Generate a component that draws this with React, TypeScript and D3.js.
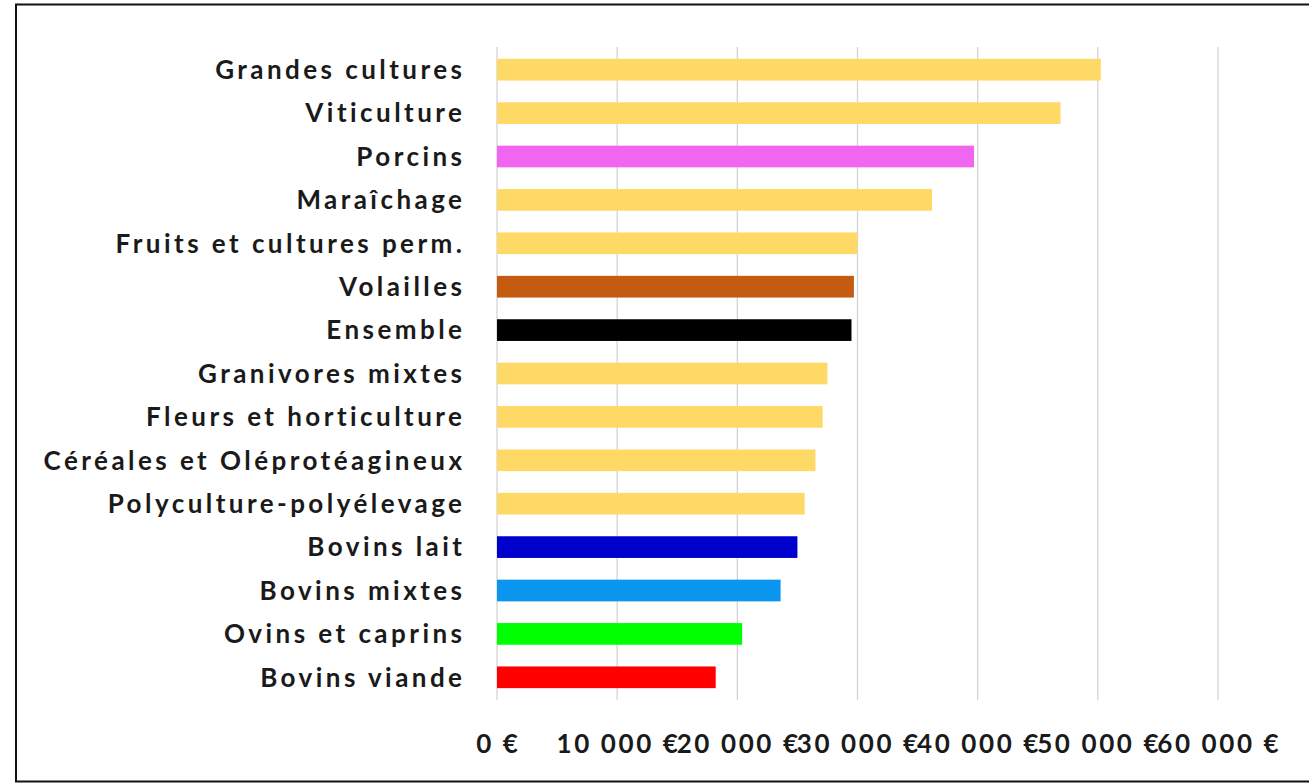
import React from "react";
import * as d3 from "d3";

const categories = [
  "Grandes cultures",
  "Viticulture",
  "Porcins",
  "Maraîchage",
  "Fruits et cultures perm.",
  "Volailles",
  "Ensemble",
  "Granivores mixtes",
  "Fleurs et horticulture",
  "Céréales et Oléprotéagineux",
  "Polyculture-polyélevage",
  "Bovins lait",
  "Bovins mixtes",
  "Ovins et caprins",
  "Bovins viande",
];

const values = [50250, 46900, 39700, 36200, 30000, 29700, 29500, 27500, 27100, 26500, 25600, 25000, 23600, 20400, 18200];

const barColors = [
  "#FFD966", "#FFD966", "#F066F0", "#FFD966", "#FFD966", "#C55A11", "#000000",
  "#FFD966", "#FFD966", "#FFD966", "#FFD966", "#0000CC", "#0A96EE", "#00FF00", "#FF0000",
];

const tickValues = [0, 10000, 20000, 30000, 40000, 50000, 60000];
const tickLabels = ["0 €", "10 000 €", "20 000 €", "30 000 €", "40 000 €", "50 000 €", "60 000 €"];

const W = 1309;
const H = 783;
const plotLeft = 497;
const plotRight = 1218;
const plotTop = 48;
const plotBottom = 699;

export default function App() {
  const x = d3.scaleLinear().domain([0, 60000]).range([plotLeft, plotRight]);
  const y = d3
    .scaleBand<string>()
    .domain(categories)
    .range([plotTop, plotBottom])
    .paddingInner(0.5)
    .paddingOuter(0.25);

  const font = "Lato, 'Open Sans', sans-serif";
  const labelSpacing = 3.45;
  const tickSpacing = 2.6;

  return (
    <svg
      width={W}
      height={H}
      style={{ position: "absolute", left: 0, top: 0, background: "#fff" }}
    >
      <rect x={16} y={4.5} width={1310} height={777} fill="#fff" stroke="#111" strokeWidth={2} />
      {tickValues.map((t, i) => (
        <line
          key={"g" + i}
          x1={x(t)}
          x2={x(t)}
          y1={plotTop - 1}
          y2={plotBottom + 1}
          stroke="#d4d4d4"
          strokeWidth={1.3}
        />
      ))}
      {categories.map((c, i) => (
        <rect
          key={"b" + i}
          x={x(0)}
          y={y(c)!}
          width={x(values[i]) - x(0)}
          height={y.bandwidth()}
          fill={barColors[i]}
        />
      ))}
      {categories.map((c, i) => (
        <text
          key={"l" + i}
          x={462 + labelSpacing}
          y={y(c)! + y.bandwidth() / 2}
          dy="0.36em"
          textAnchor="end"
          fontFamily={font}
          fontWeight="bold"
          fontSize={26}
          letterSpacing={labelSpacing}
          fill="#1a1a1a"
        >
          {c}
        </text>
      ))}
      {tickValues.map((t, i) => (
        <text
          key={"t" + i}
          x={x(t) + tickSpacing / 2}
          y={753}
          textAnchor="middle"
          fontFamily={font}
          fontWeight="bold"
          fontSize={26}
          letterSpacing={tickSpacing}
          fill="#1a1a1a"
        >
          {tickLabels[i]}
        </text>
      ))}
    </svg>
  );
}
